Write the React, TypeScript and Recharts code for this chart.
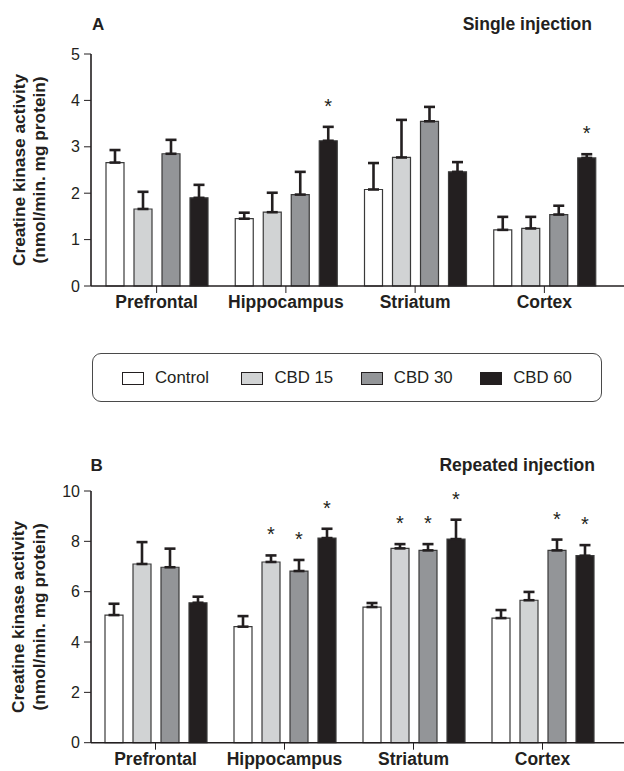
import React from 'react';
import { BarChart, Bar, XAxis, YAxis, ErrorBar, LabelList, Legend } from 'recharts';

const FONT = '"Liberation Sans", Arial, Helvetica, sans-serif';
const INK = '#231f20';

const regions = ['Prefrontal', 'Hippocampus', 'Striatum', 'Cortex'];
const seriesNames = ['Control', 'CBD 15', 'CBD 30', 'CBD 60'];
const seriesColors = ['#ffffff', '#d1d3d4', '#939598', '#231f20'];

// Panel A: single injection (mean, SEM, significance)
const singleControl = [2.66, 1.45, 2.08, 1.21];
const singleControlErr = [0.27, 0.13, 0.57, 0.28];
const singleCbd15 = [1.66, 1.59, 2.77, 1.24];
const singleCbd15Err = [0.37, 0.42, 0.81, 0.25];
const singleCbd30 = [2.85, 1.97, 3.55, 1.54];
const singleCbd30Err = [0.3, 0.49, 0.31, 0.19];
const singleCbd60 = [1.9, 3.13, 2.46, 2.76];
const singleCbd60Err = [0.28, 0.3, 0.21, 0.08];
const singleStarsControl = [0, 0, 0, 0];
const singleStarsCbd15 = [0, 0, 0, 0];
const singleStarsCbd30 = [0, 0, 0, 0];
const singleStarsCbd60 = [0, 1, 0, 1];

// Panel B: repeated injection
const repControl = [5.07, 4.61, 5.39, 4.95];
const repControlErr = [0.45, 0.42, 0.16, 0.32];
const repCbd15 = [7.1, 7.18, 7.72, 5.66];
const repCbd15Err = [0.87, 0.26, 0.17, 0.33];
const repCbd30 = [6.97, 6.82, 7.64, 7.64];
const repCbd30Err = [0.74, 0.44, 0.25, 0.43];
const repCbd60 = [5.56, 8.13, 8.09, 7.43];
const repCbd60Err = [0.24, 0.37, 0.77, 0.42];
const repStarsControl = [0, 0, 0, 0];
const repStarsCbd15 = [0, 1, 1, 0];
const repStarsCbd30 = [0, 1, 1, 1];
const repStarsCbd60 = [0, 1, 1, 1];

const singleTicks = [0, 1, 2, 3, 4, 5];
const repTicks = [0, 2, 4, 6, 8, 10];

function buildRows(vals: number[][], errs: number[][], stars: number[][]) {
  return regions.map((r, i) => {
    const row: any = { region: r };
    vals.forEach((v, s) => {
      row[`v${s}`] = v[i];
      row[`e${s}`] = [0, errs[s][i]];
      row[`s${s}`] = stars[s][i];
    });
    return row;
  });
}

const singleRows = buildRows(
  [singleControl, singleCbd15, singleCbd30, singleCbd60],
  [singleControlErr, singleCbd15Err, singleCbd30Err, singleCbd60Err],
  [singleStarsControl, singleStarsCbd15, singleStarsCbd30, singleStarsCbd60]
);
const repRows = buildRows(
  [repControl, repCbd15, repCbd30, repCbd60],
  [repControlErr, repCbd15Err, repCbd30Err, repCbd60Err],
  [repStarsControl, repStarsCbd15, repStarsCbd30, repStarsCbd60]
);

const makeStar = (rows: any[], s: number) => (props: any) => {
  const { index, value } = props;
  if (!value || index === undefined) return null;
  const vb = props.viewBox || props;
  const x = vb.x;
  const y = vb.y;
  const w = vb.width;
  const h = vb.height;
  const row = rows[index];
  const v = row[`v${s}`];
  const e = row[`e${s}`][1];
  const errTop = y - (h / v) * e;
  return (
    <text x={x + w / 2} y={errTop - 14} textAnchor="middle" fontSize={20} fill={INK} fontFamily={FONT}>
      *
    </text>
  );
};

const YLabel = (props: any) => {
  const vb = props.viewBox || {};
  const cy = vb.y + vb.height / 2;
  const x1 = 24.5;
  const x2 = 45;
  return (
    <g>
      <text x={x1} y={cy} transform={`rotate(-90, ${x1}, ${cy})`} textAnchor="middle" fontSize={17.3} fontWeight={700} fill={INK} fontFamily={FONT}>
        Creatine kinase activity
      </text>
      <text x={x2} y={cy} transform={`rotate(-90, ${x2}, ${cy})`} textAnchor="middle" fontSize={17.3} fontWeight={700} fill={INK} fontFamily={FONT}>
        (nmol/min. mg protein)
      </text>
    </g>
  );
};

const LegendBox = () => {
  return (
    <div
      style={{
        width: 510,
        height: 49,
        boxSizing: 'border-box',
        border: '1.2px solid #4a4a4a',
        borderRadius: 9,
        position: 'relative',
        fontFamily: FONT,
      }}
    >
      {seriesNames.map((n, i) => (
        <div
          key={n}
          style={{ position: 'absolute', left: 29 + i * 119.4, top: 10, height: 28, display: 'flex', alignItems: 'center' }}
        >
          <span
            style={{
              display: 'inline-block',
              width: 22,
              height: 13,
              boxSizing: 'border-box',
              background: seriesColors[i],
              border: `1px solid ${INK}`,
            }}
          />
          <span style={{ marginLeft: 11, fontSize: 16.8, color: INK, lineHeight: '28px' }}>{n}</span>
        </div>
      ))}
    </div>
  );
};

function Panel(props: {
  rows: any[];
  yMax: number;
  ticks: number[];
  height: number;
  marginTop: number;
  marginBottom: number;
  xAxisHeight: number;
  xPad: { left: number; right: number };
  legend?: boolean;
}) {
  const { rows, yMax, ticks, height, marginTop, marginBottom, xAxisHeight, xPad, legend } = props;
  return (
    <BarChart
      width={624}
      height={height}
      data={rows}
      margin={{ top: marginTop, right: 0, bottom: marginBottom, left: 30 }}
      barSize={18}
      barGap={10}
    >
      <XAxis
        dataKey="region"
        padding={xPad}
        height={xAxisHeight}
        tickSize={7}
        tickMargin={3}
        interval={0}
        axisLine={{ stroke: INK, strokeWidth: 1.6 }}
        tickLine={{ stroke: INK, strokeWidth: 1 }}
        tick={{ fontSize: 17.5, fontWeight: 700, fill: INK, fontFamily: FONT }}
      />
      <YAxis
        domain={[0, yMax]}
        ticks={ticks}
        width={61}
        tickSize={7}
        tickMargin={4}
        axisLine={{ stroke: INK, strokeWidth: 1.6 }}
        tickLine={{ stroke: INK, strokeWidth: 1 }}
        tick={{ fontSize: 16, fill: INK, fontFamily: FONT }}
        label={(p: any) => <YLabel {...p} />}
      />
      {seriesNames.map((n, s) => (
        <Bar
          key={n}
          dataKey={`v${s}`}
          name={n}
          fill={seriesColors[s]}
          stroke="#3a3a3a"
          strokeWidth={1.2}
          isAnimationActive={false}
        >
          <ErrorBar dataKey={`e${s}`} width={5.5} strokeWidth={2.6} stroke={INK} direction="y" />
          <LabelList dataKey={`s${s}`} content={makeStar(rows, s)} />
        </Bar>
      ))}
      {legend && (
        <Legend
          layout="horizontal"
          verticalAlign="middle"
          align="center"
          content={() => <LegendBox />}
          wrapperStyle={{ position: 'absolute', top: 353, left: 92, width: 510, height: 49 }}
        />
      )}
    </BarChart>
  );
}

export default function App() {
  return (
    <div style={{ position: 'absolute', left: 0, top: 0, width: 624, height: 771, background: '#fff' }}>
      <div style={{ position: 'absolute', left: 0, top: 0 }}>
        <Panel
          rows={singleRows}
          yMax={5}
          ticks={singleTicks}
          height={420}
          marginTop={54}
          marginBottom={104}
          xAxisHeight={30}
          xPad={{ left: 1, right: 15 }}
          legend
        />
      </div>
      <div style={{ position: 'absolute', left: 0, top: 420 }}>
        <Panel
          rows={repRows}
          yMax={10}
          ticks={repTicks}
          height={351}
          marginTop={71}
          marginBottom={0}
          xAxisHeight={28.3}
          xPad={{ left: 0, right: 17 }}
        />
      </div>
      <svg width={624} height={771} style={{ position: 'absolute', left: 0, top: 0, pointerEvents: 'none' }}>
        <text x={92} y={30} fontSize={17} fontWeight={700} fill={INK} fontFamily={FONT}>A</text>
        <text x={592} y={29.5} textAnchor="end" fontSize={17.5} fontWeight={700} fill={INK} fontFamily={FONT}>Single injection</text>
        <text x={90.5} y={470.7} fontSize={17} fontWeight={700} fill={INK} fontFamily={FONT}>B</text>
        <text x={595} y={471} textAnchor="end" fontSize={17.5} fontWeight={700} fill={INK} fontFamily={FONT}>Repeated injection</text>
      </svg>
    </div>
  );
}
